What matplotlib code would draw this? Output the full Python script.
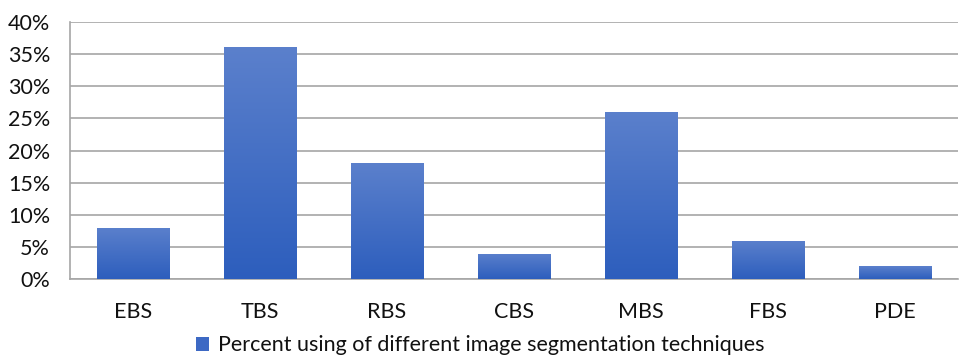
import numpy as np
import matplotlib.pyplot as plt
from matplotlib.colors import LinearSegmentedColormap
from matplotlib.patches import Rectangle
from matplotlib.ticker import FuncFormatter

techniques = ["EBS", "TBS", "RBS", "CBS", "MBS", "FBS", "PDE"]
percent_used = [8, 36, 18, 4, 26, 6, 2]
series_name = "Percent using of different image segmentation techniques"

plt.rcParams['font.family'] = ['Lato', 'DejaVu Sans']

fig = plt.figure(figsize=(9.6, 3.55), dpi=100)
ax = fig.add_axes([0.0724, 0.213, 0.926, 0.726])

x = np.arange(len(techniques))
bar_w = 0.57
bars = ax.bar(x, percent_used, width=bar_w, color='none', zorder=3)

# vertical gradient fill, lighter at the top of each bar
grad = LinearSegmentedColormap.from_list('blues', ['#2d5ebd', '#5b80cc'])
ramp = np.linspace(0, 1, 256).reshape(-1, 1)
for b in bars:
    x0, y0 = b.get_x(), b.get_y()
    w, h = b.get_width(), b.get_height()
    im = ax.imshow(ramp, cmap=grad, origin='lower', aspect='auto',
                   extent=[x0, x0 + w, y0, y0 + h], zorder=3)
    clip = Rectangle((x0, y0), w, h, transform=ax.transData)
    im.set_clip_path(clip)

ax.set_xlim(-0.5, len(techniques) - 0.5)
ax.set_ylim(0, 40)
ax.set_yticks(range(0, 41, 5))
ax.yaxis.set_major_formatter(FuncFormatter(lambda v, _: f"{int(v)}%"))
ax.set_xticks(x)
ax.set_xticklabels(techniques)

ax.grid(axis='y', color='#a6a6a6', linewidth=1.2, zorder=0)
ax.set_axisbelow(True)
for side in ['top', 'right']:
    ax.spines[side].set_visible(False)
ax.spines['left'].set_color('#a6a6a6')
ax.spines['bottom'].set_color('#a6a6a6')
ax.spines['left'].set_linewidth(1.2)
ax.spines['bottom'].set_linewidth(1.2)
ax.tick_params(axis='both', length=0, labelsize=15.5, colors='#111111')
ax.tick_params(axis='y', pad=14)
ax.tick_params(axis='x', pad=16)

handle = Rectangle((0, 0), 1, 1, facecolor='#3d69c4')
fig.legend([handle], [series_name], loc='center', bbox_to_anchor=(0.5, 0.027),
           frameon=False, fontsize=15.5, labelcolor='#111111',
           handlelength=0.6, handleheight=0.6, handletextpad=0.4)

fig.savefig("out.png", dpi=100)
